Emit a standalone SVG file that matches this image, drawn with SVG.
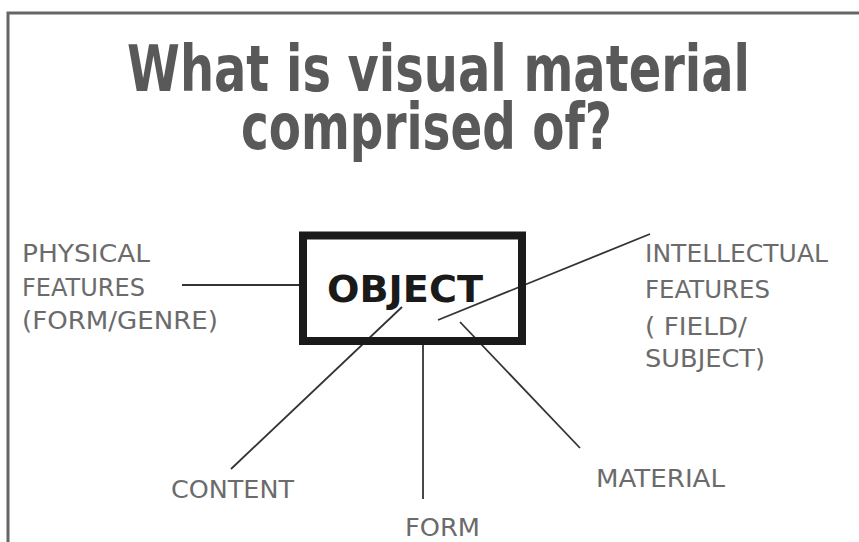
<svg xmlns="http://www.w3.org/2000/svg" width="859" height="542" viewBox="0 0 859 542">
<style>
.title{font-family:"DejaVu Sans",Verdana,sans-serif;font-weight:bold;font-size:64px;fill:#595959}
.lbl{font-family:"DejaVu Sans","Liberation Sans",sans-serif;font-size:24.5px;fill:#6b6b6b}
.obj{font-family:"DejaVu Sans","Liberation Sans",sans-serif;font-weight:bold;font-size:37px;fill:#1a1a1a}
.conn line{stroke:#333;stroke-width:1.8;fill:none}
</style>
<rect x="0" y="0" width="859" height="542" fill="#fff"/>
<rect id="frame" x="8" y="13" width="900" height="600" fill="none" stroke="#666" stroke-width="3"/>
<g id="title">
<text class="title" x="127" y="91" textLength="623" lengthAdjust="spacingAndGlyphs">What is visual material</text>
<text class="title" x="241" y="149" textLength="371" lengthAdjust="spacingAndGlyphs">comprised of?</text>
</g>
<g class="conn" id="connectors">
<line x1="182" y1="285" x2="300" y2="285"/>
<line x1="438" y1="320" x2="650" y2="234"/>
<line x1="460" y1="322" x2="580" y2="448"/>
<line x1="402" y1="307" x2="231" y2="469"/>
<line x1="423" y1="345" x2="423" y2="499"/>
</g>
<g id="object">
<rect x="303" y="235.5" width="219" height="105.5" fill="none" stroke="#1a1a1a" stroke-width="8"/>
<text class="obj" x="327" y="302" textLength="156" lengthAdjust="spacingAndGlyphs">OBJECT</text>
</g>
<g id="physical">
<text class="lbl" x="22" y="262" textLength="128" lengthAdjust="spacingAndGlyphs">PHYSICAL</text>
<text class="lbl" x="22" y="296" textLength="123" lengthAdjust="spacingAndGlyphs">FEATURES</text>
<text class="lbl" x="22" y="329" textLength="196" lengthAdjust="spacingAndGlyphs">(FORM/GENRE)</text>
</g>
<g id="intellectual">
<text class="lbl" x="645" y="262" textLength="183" lengthAdjust="spacingAndGlyphs">INTELLECTUAL</text>
<text class="lbl" x="645" y="298" textLength="125" lengthAdjust="spacingAndGlyphs">FEATURES</text>
<text class="lbl" x="645" y="335" textLength="102" lengthAdjust="spacingAndGlyphs">( FIELD/</text>
<text class="lbl" x="645" y="367" textLength="120" lengthAdjust="spacingAndGlyphs">SUBJECT)</text>
</g>
<g id="content"><text class="lbl" x="171" y="498" textLength="123" lengthAdjust="spacingAndGlyphs">CONTENT</text></g>
<g id="form"><text class="lbl" x="405" y="536" textLength="75" lengthAdjust="spacingAndGlyphs">FORM</text></g>
<g id="material"><text class="lbl" x="596" y="487" textLength="129" lengthAdjust="spacingAndGlyphs">MATERIAL</text></g>
</svg>
